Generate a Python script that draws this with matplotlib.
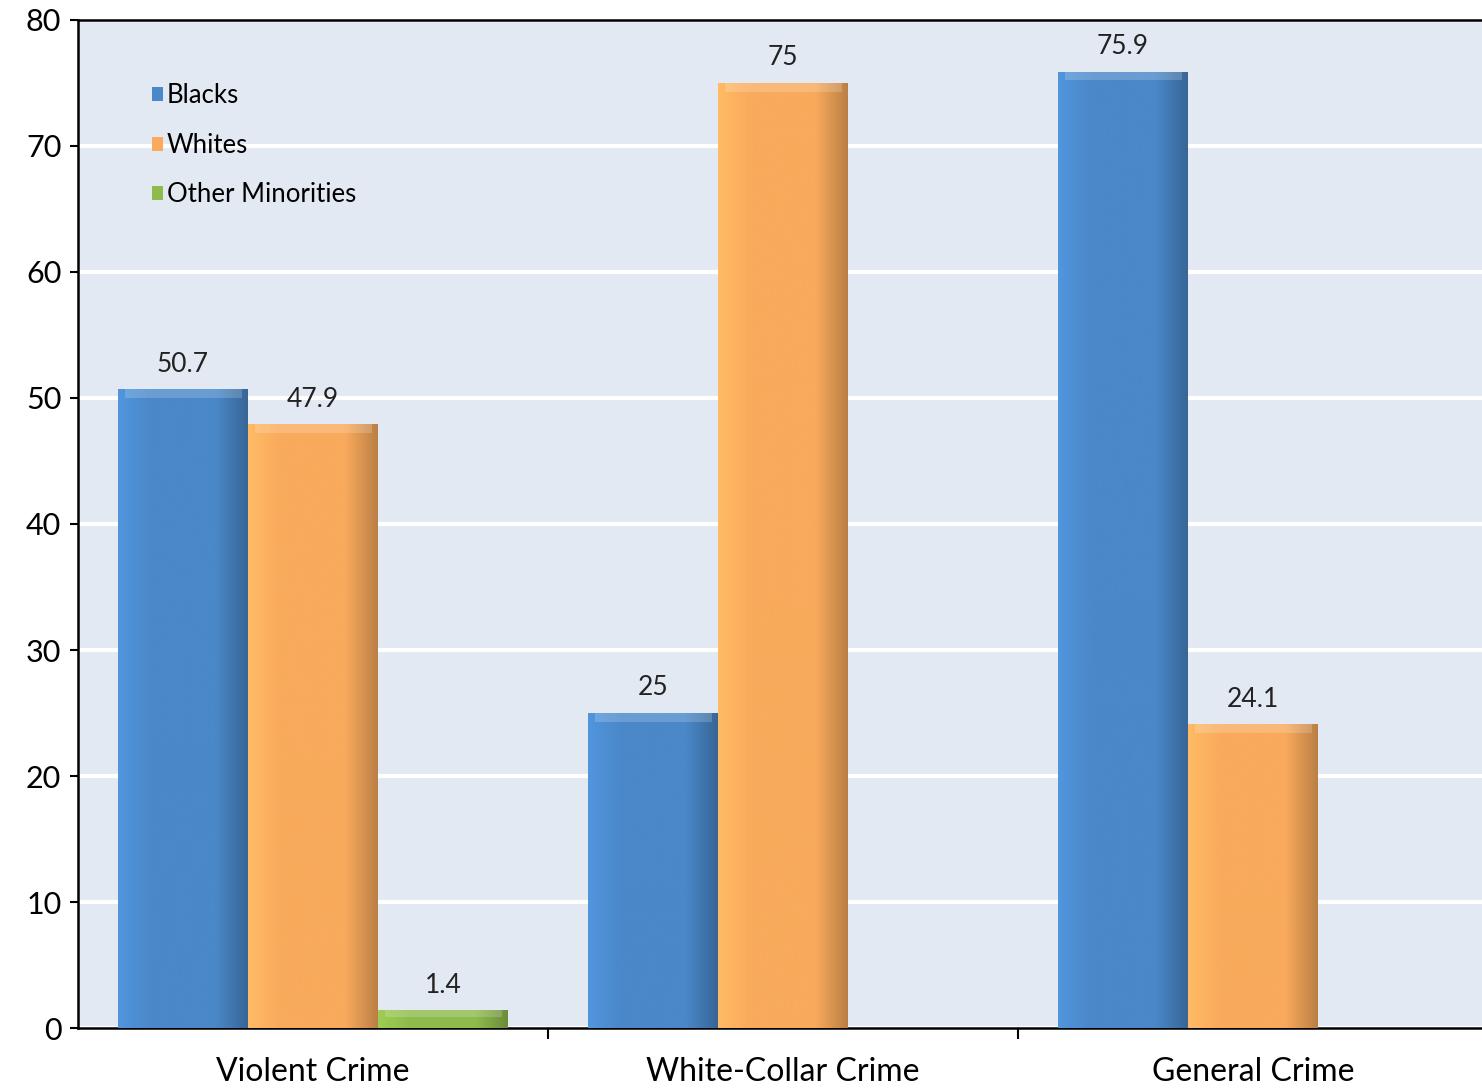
import numpy as np
import matplotlib.pyplot as plt
from matplotlib.colors import LinearSegmentedColormap, to_rgb

# Dane z wykresu
categories = ['Violent Crime', 'White-Collar Crime', 'General Crime']
blacks = [50.7, 25, 75.9]
whites = [47.9, 75, 24.1]
other = [1.4, None, None]
series_names = ['Blacks', 'Whites', 'Other Minorities']
y_ticks = [0, 10, 20, 30, 40, 50, 60, 70, 80]

colors = ['#4a88c9', '#f9aa5c', '#8fbb4c']

plt.rcParams['font.family'] = ['Lato', 'DejaVu Sans']

fig = plt.figure(figsize=(14.82, 10.92), dpi=100)
ax = fig.add_axes([78 / 1482, 1 - 1028 / 1092, 1 - 78 / 1482, (1028 - 20) / 1092])
ax.set_facecolor('#e3e9f3')

x = np.arange(len(categories))
width = 130 / 470


def shade(bars, base):
    # poziomy gradient + jasny pasek u góry, żeby przypominało słupki z Excela
    r, g, b = to_rgb(base)
    light = (min(1, r * 1.1), min(1, g * 1.1), min(1, b * 1.1))
    dark = (r * 0.75, g * 0.75, b * 0.75)
    cmap = LinearSegmentedColormap.from_list('s', [light, base, base, base, dark])
    grad = np.linspace(0, 1, 256).reshape(1, -1)
    for p in bars:
        x0, y0, w, h = p.get_x(), p.get_y(), p.get_width(), p.get_height()
        im = ax.imshow(grad, cmap=cmap, extent=[x0, x0 + w, y0, y0 + h],
                       aspect='auto', zorder=3, interpolation='bicubic')
        im.set_clip_path(p)
        top = min(0.7, h * 0.4)
        ax.fill_between([x0 + w * 0.05, x0 + w * 0.95], y0 + h - top, y0 + h,
                        color='white', alpha=0.18, zorder=4, lw=0)


for i, (vals, col) in enumerate(zip([blacks, whites, other], colors)):
    xs = [xi + (i - 1) * width for xi, v in zip(x, vals) if v is not None]
    vs = [v for v in vals if v is not None]
    bars = ax.bar(xs, vs, width, color=col, edgecolor='none', zorder=2,
                  label=series_names[i])
    shade(bars, col)
    for xv, v in zip(xs, vs):
        ax.text(xv, v + 1.0, f'{v:g}', ha='center', va='bottom', fontsize=19,
                color='#222222', zorder=5)

ax.set_ylim(0, 80)
ax.set_xlim(-0.5, 2.5 - 6 / 470)
ax.set_yticks(y_ticks)
ax.set_yticklabels([str(t) for t in y_ticks], fontsize=22)
ax.yaxis.grid(True, color='white', linewidth=3, zorder=0)
ax.set_axisbelow(True)

ax.set_xticks(x)
ax.set_xticklabels(categories, fontsize=23)
ax.tick_params(axis='x', length=0, pad=21)
ax.set_xticks([0.5, 1.5], minor=True)
ax.tick_params(axis='x', which='minor', length=8, width=1.5, direction='out')
ax.tick_params(axis='y', length=6, width=1.5, direction='out', pad=6)

for s in ['left', 'bottom', 'top']:
    ax.spines[s].set_color('black')
    ax.spines[s].set_linewidth(1.8)
ax.spines['right'].set_visible(False)

leg = ax.legend(loc='upper left', bbox_to_anchor=(0.036, 0.96), frameon=False,
                fontsize=18.5, handlelength=0.45, handleheight=0.45,
                handletextpad=0.15, labelspacing=0.95)

fig.savefig('out.png', dpi=100)
